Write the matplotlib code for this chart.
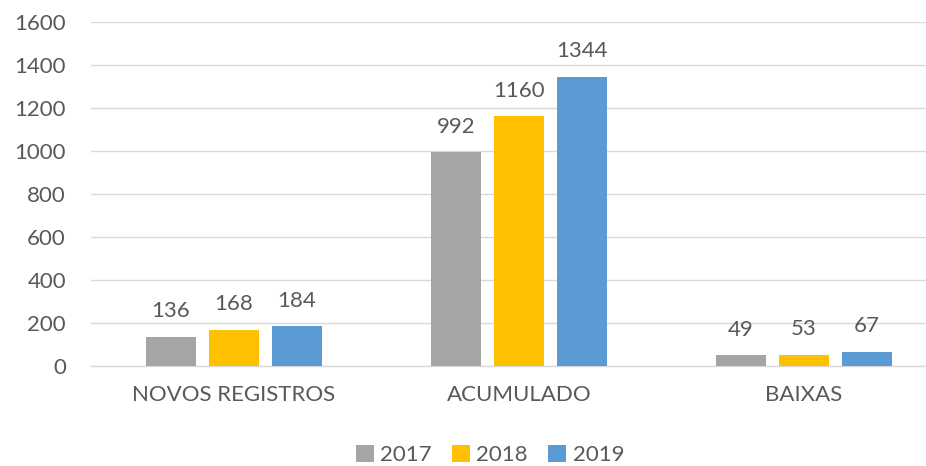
import matplotlib
matplotlib.use("Agg")
import matplotlib.pyplot as plt
import numpy as np

categories = ["NOVOS REGISTROS", "ACUMULADO", "BAIXAS"]
years = ["2017", "2018", "2019"]
v2017 = [136, 992, 49]
v2018 = [168, 1160, 53]
v2019 = [184, 1344, 67]
yticks = [0, 200, 400, 600, 800, 1000, 1200, 1400, 1600]

colors = ["#A5A5A5", "#FFC000", "#5B9BD5"]
text_color = "#595959"
plt.rcParams['font.family'] = ['Lato', 'DejaVu Sans']

W, H = 926, 466
fig = plt.figure(figsize=(W / 100, H / 100), dpi=100)
left, right = 91 / W, 1.0
bottom, top = 1 - 366 / H, 1 - 21.5 / H
ax = fig.add_axes([left, bottom, right - left, top - bottom])

x = np.arange(len(categories))
bw = 0.175
off = 0.221
series = [v2017, v2018, v2019]
fs = 16
for i, (vals, c, yr) in enumerate(zip(series, colors, years)):
    pos = x + (i - 1) * off
    ax.bar(pos, vals, width=bw, color=c, label=yr, zorder=3)
    for p, v in zip(pos, vals):
        ax.annotate(str(v), (p, v), xytext=(0, 14), textcoords="offset points",
                    ha="center", va="baseline", fontsize=fs, color=text_color)

ax.set_xlim(-0.5, 2 + (926 - 804) / 285)
ax.set_ylim(0, 1600)
ax.set_yticks(yticks)
ax.set_xticks(x)
ax.set_xticklabels(categories)
ax.tick_params(axis="both", length=0, labelsize=fs, labelcolor=text_color)
ax.tick_params(axis="y", pad=18)
ax.tick_params(axis="x", pad=14)
ax.grid(axis="y", color="#D9D9D9", linewidth=1.0, zorder=0)
for s in ["top", "right", "left"]:
    ax.spines[s].set_visible(False)
ax.spines["bottom"].set_color("#D9D9D9")
ax.spines["bottom"].set_linewidth(1.0)

leg = fig.legend(loc="center", bbox_to_anchor=(490 / W, 1 - 455 / H), ncol=3,
                 frameon=False, fontsize=fs, handlelength=0.8, handleheight=0.8,
                 handletextpad=0.3, columnspacing=0.9, borderaxespad=0)
for t in leg.get_texts():
    t.set_color(text_color)

fig.savefig("out.png", dpi=100)
